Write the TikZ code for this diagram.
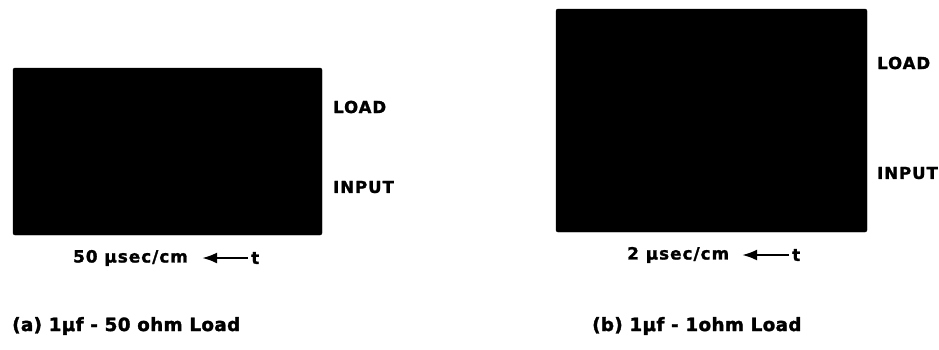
\documentclass[tikz,border=0pt]{standalone}
\usepackage{fontspec}
\setmainfont{DejaVu Sans}
\newfontfamily\leroyA[LetterSpace=6,FakeBold=1.5]{DejaVu Sans Bold}
\newfontfamily\leroyB[LetterSpace=6,FakeBold=1.5]{DejaVu Sans Bold}
\newfontfamily\leroyC[LetterSpace=2,FakeBold=1.8]{DejaVu Sans Bold}
\usetikzlibrary{arrows.meta}
\begin{document}
\begin{tikzpicture}[x=1pt,y=-1pt,
  screenbox/.style={fill=black,draw=black,rounded corners=2pt},
  side/.style={font=\leroyA\fontsize{16.5}{16.5}\selectfont,inner sep=0pt,anchor=west},
  scale lbl/.style={font=\leroyB\fontsize{16.8}{16.8}\selectfont,inner sep=0pt,anchor=west},
  captext/.style={font=\leroyC\fontsize{18.3}{18.3}\selectfont,inner sep=0pt,anchor=west},
  tarrow/.style={line width=2.5pt,-{Latex[length=15pt,width=11pt]}}]
\useasboundingbox (0,0) rectangle (939,349);
% left screen
\path[screenbox] (13,68) rectangle (322,235);
\node[side] (la) at (333,107) {LOAD};
\node[side] (ia) at (333,187) {INPUT};
\node[scale lbl] (sa) at (73,258) {50 µsec/cm};
\node[scale lbl] (ta) at (251,258) {t};
\coordinate (ea) at (202,258);
\draw[tarrow] ([xshift=-3pt]ta.west) -- (ea);
\node[captext] (ca) at (12,326) {(a) 1µf - 50 ohm Load};
% right screen
\path[screenbox] (556,9) rectangle (867,232);
\node[side] (lb) at (877,63) {LOAD};
\node[side] (ib) at (877,173) {INPUT};
\node[scale lbl] (sb) at (627,255) {2 µsec/cm};
\node[scale lbl] (tb) at (792,255) {t};
\coordinate (eb) at (742,255);
\draw[tarrow] ([xshift=-3pt]tb.west) -- (eb);
\node[captext] (cb) at (592,326) {(b) 1µf - 1ohm Load};
\end{tikzpicture}
\end{document}
